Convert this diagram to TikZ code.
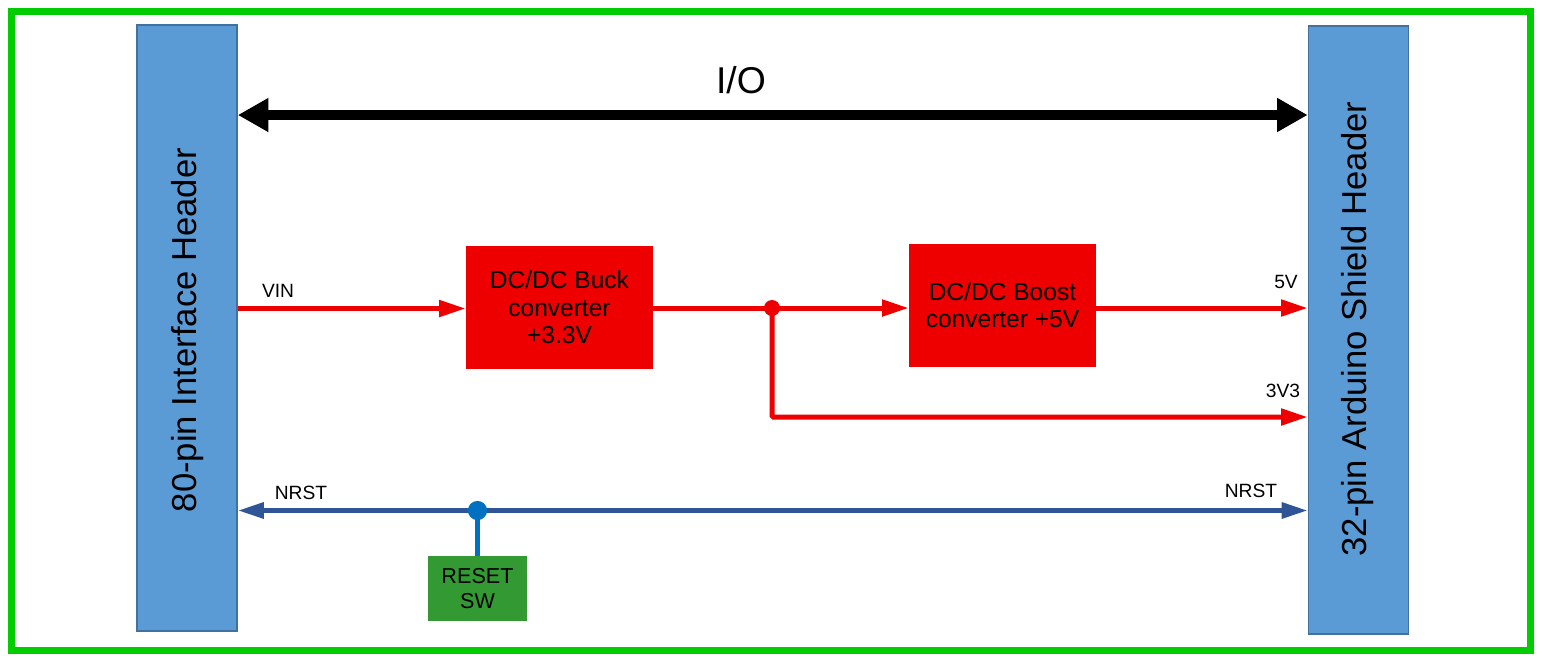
\documentclass[tikz,border=0pt]{standalone}
\usepackage{fontspec}
\setmainfont{Liberation Sans}
\usetikzlibrary{arrows.meta}
\definecolor{hdrfill}{HTML}{5B9BD5}
\definecolor{hdrdraw}{HTML}{41719C}
\definecolor{pwr}{HTML}{EE0000}
\definecolor{rstline}{HTML}{2F5597}
\definecolor{rstdot}{HTML}{0070C0}
\definecolor{swfill}{HTML}{339933}
\definecolor{framecol}{HTML}{00CC00}
\begin{document}
\begin{tikzpicture}[x=0.75pt,y=-0.75pt,
  header/.style={draw=hdrdraw, line width=1.2pt, fill=hdrfill, minimum width=75pt, inner sep=0pt},
  hdrtext/.style={rotate=90, font=\fontsize{26}{30}\selectfont, inner sep=0pt},
  conv/.style={fill=pwr, minimum width=140.25pt, minimum height=92.25pt, inner sep=0pt, align=center, font=\fontsize{18.4}{20.5}\selectfont},
  swbox/.style={fill=swfill, minimum width=74.25pt, minimum height=48.75pt, inner sep=0pt, align=center, font=\fontsize{16.2}{18.8}\selectfont},
  sig/.style={font=\fontsize{14.4}{17}\selectfont, inner sep=0pt},
  pwrline/.style={draw=pwr, line width=3.75pt, -{Triangle[length=20pt,width=12pt]}},
  rstarrow/.style={draw=rstline, line width=3.75pt},
  iotip/.style={Triangle[length=23pt,width=24pt]}
]
\useasboundingbox (0,0) rectangle (1542,662);
\draw[framecol, line width=5.25pt] (11.5,11.5) rectangle (1530,650);

% headers
\node[header, minimum height=454.5pt] (lh) at (187,328) {};
\node[header, minimum height=456pt] (rh) at (1358.5,330) {};
\node[hdrtext] (lht) at (188,330) {80-pin Interface Header};
\node[hdrtext] (rht) at (1358,329) {32-pin Arduino Shield Header};

% I/O bus
\node[font=\fontsize{28}{32}\selectfont, inner sep=0pt] (io) at (741,80) {I/O};
\coordinate (ioL) at (lh.east |- 0,115);
\coordinate (ioR) at (rh.west |- 0,115);
\draw[line width=8pt, {Triangle[length=23pt,width=24pt]}-{Triangle[length=23pt,width=24pt]}] (ioL) -- (ioR);

% converters
\node[conv] (buck) at (559.5,307.5) {DC/DC Buck\\converter\\+3.3V};
\node[conv] (boost) at (1002.5,305.5) {DC/DC Boost\\converter +5V};

\coordinate (vinL) at (lh.east |- 0,308.5);
\node[sig] (vin) at (278,291) {VIN};
\draw[pwrline] (vinL) -- (vinL -| buck.west);

\coordinate (j) at (772,308);
\draw[draw=pwr, line width=3.75pt] (buck.east |- j) -- (j);
\draw[pwrline] (j) -- (j -| boost.west);
\fill[pwr] (j) circle (6pt);

\coordinate (v5) at (rh.west |- 0,308);
\draw[pwrline] (boost.east |- v5) -- (v5);
\node[sig] (l5v) at (1286,281.5) {5V};

\coordinate (v33) at (rh.west |- 0,417);
\draw[pwrline, rounded corners=1pt] (j) |- (v33);
\node[sig] (l3v3) at (1283,390.5) {3V3};

% reset
\coordinate (nL) at (lh.east |- 0,510.5);
\coordinate (nR) at (rh.west |- 0,510.5);
\draw[rstarrow, {Triangle[length=19.5pt,width=11.5pt]}-{Triangle[length=19.5pt,width=11.5pt]}] (nL) -- (nR);
\node[sig] (nrstl) at (301,493) {NRST};
\node[sig] (nrstr) at (1251,491) {NRST};

\node[swbox] (sw) at (477.5,588.5) {RESET\\SW};
\coordinate (rj) at (sw.north |- nL);
\draw[draw=rstdot, line width=3.75pt] (rj) -- (sw.north);
\fill[rstdot] (rj) circle (7.2pt);
\end{tikzpicture}
\end{document}
